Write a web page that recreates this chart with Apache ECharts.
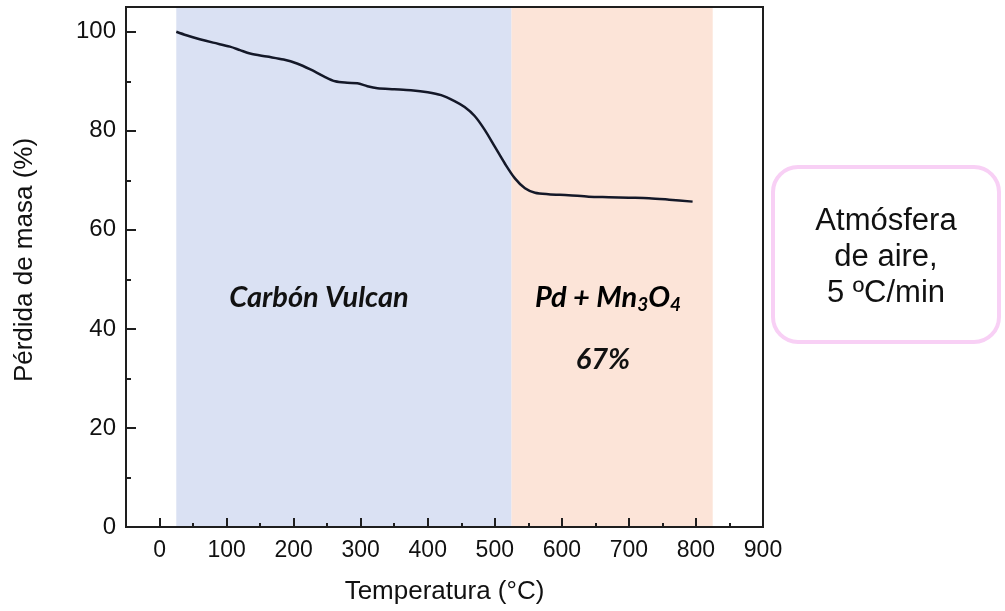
<!DOCTYPE html>
<html>
<head>
<meta charset="utf-8">
<script src="https://cdn.jsdelivr.net/npm/echarts@6/dist/echarts.min.js"></script>
<style>html,body{margin:0;padding:0;background:#fff}#c{width:1005px;height:611px}</style>
</head>
<body>
<div id="c"></div>
<script>
// Temperature (°C) and mass (%)
const temperature = [25,40,60,80,105,120,135,160,185,205,225,245,262,280,295,310,325,350,375,400,420,440,455,470,485,500,515,530,545,560,580,610,640,670,700,730,760,795];
const massPct     = [100,99.3,98.5,97.8,97.0,96.3,95.6,95.0,94.4,93.6,92.4,91.0,90.0,89.7,89.6,89.0,88.6,88.4,88.2,87.8,87.2,86.0,84.8,83.0,80.2,76.8,73.4,70.4,68.4,67.5,67.2,67.0,66.7,66.6,66.5,66.4,66.1,65.7];
// Shaded regions (°C)
const carbonRegion = [25, 525];
const oxideRegion  = [525, 825];
// Tick values
const xMajorTicks = [0,100,200,300,400,500,600,700,800,900];
const xMinorTicks = [50,150,250,350,450,550,650,750,850];
const yMajorTicks = [0,20,40,60,80,100];
const yMinorTicks = [10,30,50,70,90];

const chart = echarts.init(document.getElementById('c'));
const font = 'Liberation Sans, Arial, sans-serif';
const axisCol = '#1e1e1e';
const baseX = {
  type:'value', min:-50, max:900, gridIndex:0, splitLine:{show:false}, z:10
};
const baseY = {
  type:'value', min:0, max:105, gridIndex:0, splitLine:{show:false}, z:10
};
chart.setOption({
  animation:false,
  grid:{left:126, right:242, top:7, bottom:84, show:true, borderColor:axisCol, borderWidth:2, backgroundColor:'transparent', z:9},
  xAxis:[
    Object.assign({}, baseX, {
      position:'bottom',
      name:'Temperatura (°C)', nameLocation:'middle', nameGap:52,
      nameTextStyle:{fontFamily:font, fontSize:26, color:'#111'},
      axisLine:{show:true, onZero:false, lineStyle:{color:axisCol, width:2}},
      axisTick:{show:true, inside:true, length:9, customValues:xMajorTicks, lineStyle:{color:axisCol, width:2}},
      axisLabel:{show:true, customValues:xMajorTicks, margin:12, fontFamily:font, fontSize:23, color:'#111'}
    }),
    Object.assign({}, baseX, {
      position:'bottom',
      axisLine:{show:false, onZero:false},
      axisTick:{show:true, inside:true, length:4, customValues:xMinorTicks, lineStyle:{color:axisCol, width:2}},
      axisLabel:{show:false}
    })
  ],
  yAxis:[
    Object.assign({}, baseY, {
      position:'left',
      axisLine:{show:true, onZero:false, lineStyle:{color:axisCol, width:2}},
      axisTick:{show:true, inside:true, length:10, customValues:yMajorTicks, lineStyle:{color:axisCol, width:2}},
      axisLabel:{show:true, customValues:yMajorTicks, margin:10, fontFamily:font, fontSize:24, color:'#111'}
    }),
    Object.assign({}, baseY, {
      position:'left',
      axisLine:{show:false, onZero:false},
      axisTick:{show:true, inside:true, length:5, customValues:yMinorTicks, lineStyle:{color:axisCol, width:2}},
      axisLabel:{show:false}
    })
  ],
  series:[{
    type:'line',
    xAxisIndex:0, yAxisIndex:0,
    data: temperature.map((t,i)=>[t, massPct[i]]),
    smooth:0.3,
    showSymbol:false,
    lineStyle:{color:'#141828', width:2.5},
    markArea:{
      silent:true,
      data:[
        [{xAxis:carbonRegion[0], itemStyle:{color:'#dae1f3'}},{xAxis:carbonRegion[1]}],
        [{xAxis:oxideRegion[0], itemStyle:{color:'#fce4d8'}},{xAxis:oxideRegion[1]}]
      ]
    },
    z:3
  }],
  graphic:[
    {type:'text', x:25, y:260, rotation:Math.PI/2, z:10,
     style:{text:'Pérdida de masa (%)', align:'center', verticalAlign:'middle',
            font:'26px "Liberation Sans", Arial, sans-serif', fill:'#111'}},
    {type:'text', x:319, y:298, z:10,
     style:{text:'Carbón Vulcan', align:'center', verticalAlign:'middle',
            font:'italic bold 29px Lato, "Open Sans", sans-serif', fill:'#111'}},
    {type:'text', x:608, y:298, z:10,
     style:{text:'{m|Pd + Mn}{s|3}{m|O}{s|4}', align:'center', verticalAlign:'middle',
            rich:{m:{fontFamily:'Lato, sans-serif', fontStyle:'italic', fontWeight:'bold', fontSize:29, color:'#111'},
                  s:{fontFamily:'Lato, sans-serif', fontStyle:'italic', fontWeight:'bold', fontSize:19, color:'#111', padding:[14,0,0,0]}}}},
    {type:'text', x:603, y:360, z:10,
     style:{text:'67%', align:'center', verticalAlign:'middle',
            font:'italic bold 29px Lato, "Open Sans", sans-serif', fill:'#111'}},
    {type:'rect', z:10,
     shape:{x:773, y:167, width:226, height:175, r:25},
     style:{fill:'#fff', stroke:'#f8d0f5', lineWidth:4}},
    {type:'text', x:886, y:257, z:11,
     style:{text:'Atmósfera\nde aire,\n5 ºC/min', align:'center', verticalAlign:'middle', lineHeight:36,
            font:'31px "Liberation Sans", Arial, sans-serif', fill:'#111'}}
  ]
});
</script>
</body>
</html>
